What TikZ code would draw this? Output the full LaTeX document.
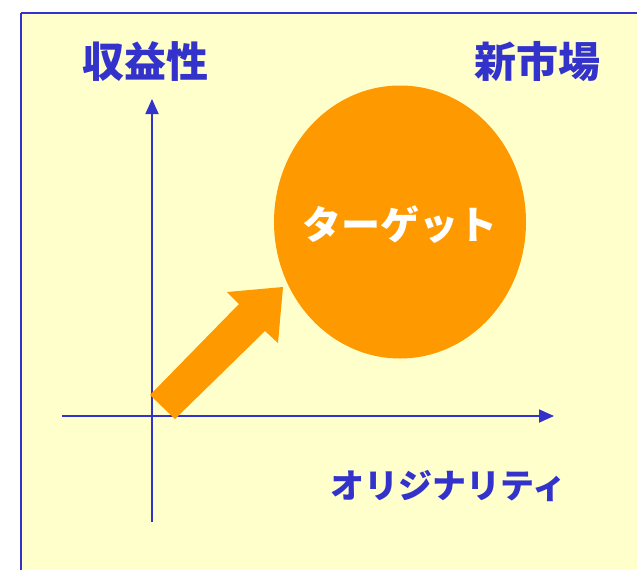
\documentclass[tikz,border=0pt]{standalone}
\usepackage{fontspec}
\usepackage{xcolor}
\usetikzlibrary{arrows.meta, shapes.geometric}
\newfontfamily\jp[CharacterWidth=Proportional]{Noto Sans CJK JP}
\definecolor{axisblue}{HTML}{3333CC}
\definecolor{paper}{HTML}{FFFFCC}
\definecolor{target}{HTML}{FF9900}

\begin{document}
\begin{tikzpicture}[x=1pt, y=-1pt]
      \useasboundingbox (0,0) rectangle (637,570);
      \tikzstyle{Frame} = [draw=axisblue, line width=2pt, fill=paper]
      \tikzstyle{AxisStyle} = [draw=axisblue, line width=1.8pt, -{Triangle[length=15pt, width=13pt]}]
      \tikzstyle{LabelStyle} = [font=\jp\bfseries\fontsize{42}{42}\selectfont, text=axisblue, inner sep=0pt]
      \fill[paper] (21,13) rectangle (640,575);
      \draw[Frame] (21,13) -- (21,575) (21,13) -- (640,13);
      % axes
      \coordinate (ybot) at (152,522);
      \coordinate (ytop) at (152,99);
      \coordinate (xleft) at (62,416);
      \coordinate (xright) at (554,416);
      \draw[AxisStyle] (ybot) -- (ytop);
      \draw[AxisStyle] (xleft) -- (xright);
      % labels
      \node[LabelStyle] (profit) at (145,62) {収益性};
      \node[LabelStyle] (market) at (537,62) {新市場};
      \node[LabelStyle, font=\jp\bfseries\fontsize{34}{34}\selectfont] (orig) at (448,486) {オリジナリティ};
      % target
      \node[ellipse, fill=target, minimum width=252pt, minimum height=273pt, inner sep=0pt] (goal) at (400,222) {};
      \node[LabelStyle, text=white, font=\jp\bfseries\fontsize{39}{39}\selectfont] (goaltext) at (400,225) {ターゲット};
      % fat arrow
      \fill[target] (150,395) -- (239,304) -- (227,292) -- (283,287)
                    -- (278,343) -- (265,331) -- (175,419) -- cycle;
\end{tikzpicture}
\end{document}
